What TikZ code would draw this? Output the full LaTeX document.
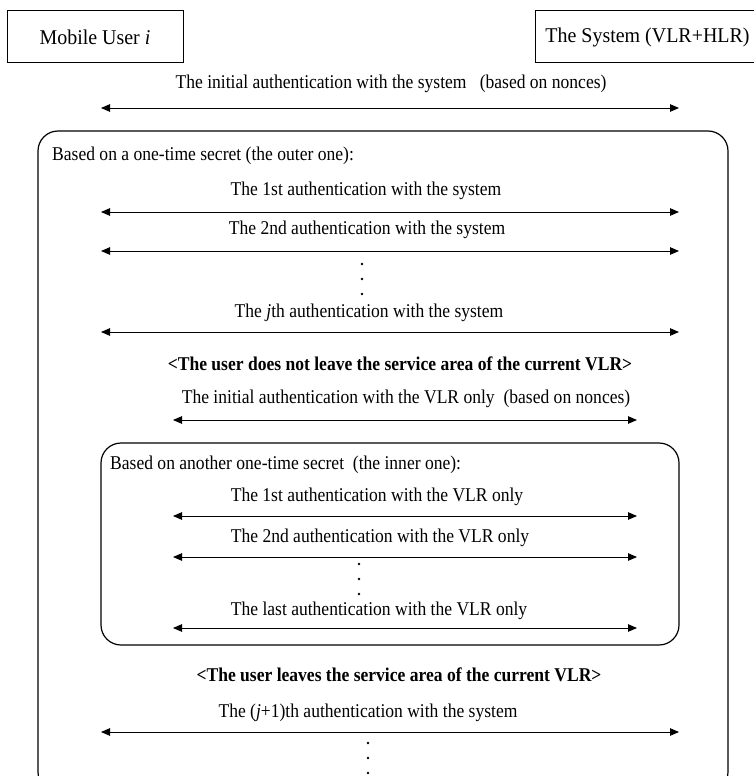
\documentclass[tikz,border=0pt]{standalone}
\usepackage{fontspec}
\setmainfont[FakeStretch=0.9]{Liberation Serif}
\newfontfamily\boxfont[FakeStretch=0.95]{Liberation Serif}
\usetikzlibrary{arrows.meta}
\begin{document}
\begin{tikzpicture}[x=1pt,y=-1pt,
  lbl/.style={font=\fontsize{19.5}{22}\selectfont, inner sep=0pt, text height=13pt, text depth=4pt},
  boldlbl/.style={lbl, font=\fontsize{19.5}{22}\selectfont\bfseries},
  boxlbl/.style={draw, line width=1pt, font=\boxfont\fontsize{21}{24}\selectfont, minimum height=52pt, inner sep=0pt},
  biarrow/.style={{Triangle[length=9pt,width=7.5pt]}-{Triangle[length=9pt,width=7.5pt]}, line width=0.9pt},
  frame/.style={draw, line width=1.2pt, rounded corners=20pt},
  dotmark/.style={fill=black}]
\clip (0,0) rectangle (754,776);
% header boxes
\node[boxlbl, minimum width=176pt] (mu) at (95,37) {Mobile User \textit{i}};
\node[boxlbl, minimum width=225pt] (sys) at (647.5,37) {The System (VLR+HLR)};
% initial authentication
\node[lbl] (t0) at (391,84) {The initial authentication with the system\ \ \ (based on nonces)};
\coordinate (a0l) at (101,108); \coordinate (a0r) at (679,108);
\draw[biarrow] (a0l) -- (a0r);
% outer frame
\draw[frame] (38,131) rectangle (728,792);
\node[lbl, anchor=west] (outer) at (52,156) {Based on a one-time secret (the outer one):};
\node[lbl] (t1) at (366,191) {The 1st authentication with the system};
\coordinate (a1l) at (101,212); \coordinate (a1r) at (679,212);
\draw[biarrow] (a1l) -- (a1r);
\node[lbl] (t2) at (367,230) {The 2nd authentication with the system};
\coordinate (a2l) at (101,251); \coordinate (a2r) at (679,251);
\draw[biarrow] (a2l) -- (a2r);
\foreach \yy in {264,279,294} \fill[dotmark] (362,\yy) circle (1.3);
\node[lbl] (tj) at (369,313) {The \textit{j}th authentication with the system};
\coordinate (ajl) at (101,332); \coordinate (ajr) at (679,332);
\draw[biarrow] (ajl) -- (ajr);
\node[boldlbl] (b1) at (400,366) {<The user does not leave the service area of the current VLR>};
\node[lbl] (tv0) at (406,399) {The initial authentication with the VLR only\ \ (based on nonces)};
\coordinate (av0l) at (173,420); \coordinate (av0r) at (637,420);
\draw[biarrow] (av0l) -- (av0r);
% inner frame
\draw[frame] (101,443) rectangle (679,645);
\node[lbl, anchor=west] (inner) at (110,465) {Based on another one-time secret\ \ (the inner one):};
\node[lbl] (tv1) at (377,497) {The 1st authentication with the VLR only};
\coordinate (av1l) at (173,516); \coordinate (av1r) at (637,516);
\draw[biarrow] (av1l) -- (av1r);
\node[lbl] (tv2) at (380,538) {The 2nd authentication with the VLR only};
\coordinate (av2l) at (173,557); \coordinate (av2r) at (637,557);
\draw[biarrow] (av2l) -- (av2r);
\foreach \yy in {564,579,594} \fill[dotmark] (359,\yy) circle (1.3);
\node[lbl] (tvl) at (379,611) {The last authentication with the VLR only};
\coordinate (avll) at (173,628); \coordinate (avlr) at (637,628);
\draw[biarrow] (avll) -- (avlr);
\node[boldlbl] (b2) at (399,677) {<The user leaves the service area of the current VLR>};
\node[lbl] (tjp) at (368,713) {The (\textit{j}+1)th authentication with the system};
\coordinate (ajpl) at (101,732); \coordinate (ajpr) at (679,732);
\draw[biarrow] (ajpl) -- (ajpr);
\foreach \yy in {743,758,773} \fill[dotmark] (368,\yy) circle (1.3);
\end{tikzpicture}
\end{document}
